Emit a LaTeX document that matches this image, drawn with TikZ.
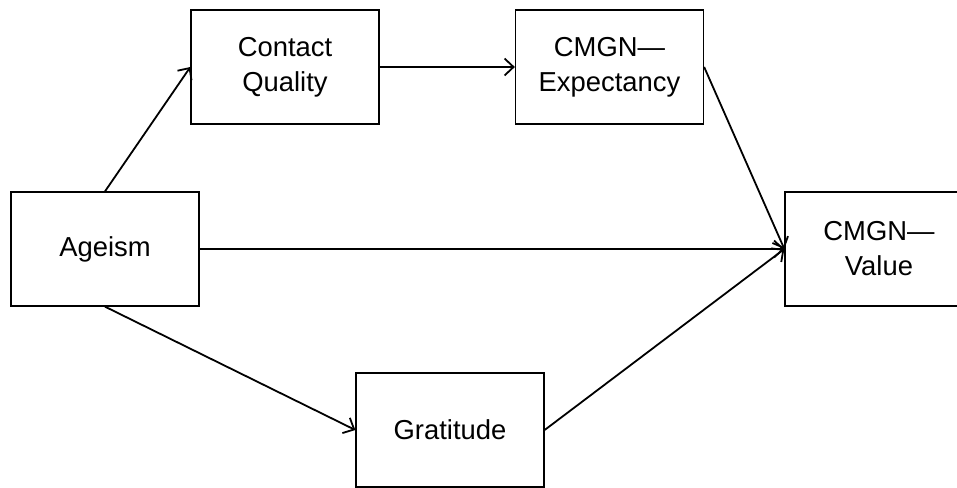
\documentclass[tikz,border=0pt]{standalone}
\usepackage{fontspec}
\setmainfont{Liberation Sans}
\usetikzlibrary{arrows.meta}
\begin{document}
\begin{tikzpicture}[x=1pt,y=-1pt,
  box/.style={draw, line width=1.3pt, minimum width=188pt, minimum height=114pt, inner sep=0pt, align=center, font=\fontsize{27.4}{35}\selectfont},
  conn/.style={line width=1.8pt, -{Straight Barb[length=9pt,width=17pt,line width=1.8pt]}}]
\clip (0,0) rectangle (957,487);
\node[box] (age) at (105,249) {Ageism};
\node[box] (cq) at (285,67) {Contact\\Quality};
\node[box] (ce) at (609.5,67) {CMGN—\\Expectancy};
\node[box] (cv) at (879,249) {CMGN—\\Value};
\node[box] (gr) at (450,430) {Gratitude};
\draw[conn] (age.north) -- (cq.west);
\draw[conn] (cq.east) -- (ce.west);
\draw[conn] (ce.east) -- (cv.west);
\draw[conn] (age.east) -- (cv.west);
\draw[conn] (age.south) -- (gr.west);
\draw[conn] (gr.east) -- (cv.west);
\end{tikzpicture}
\end{document}
